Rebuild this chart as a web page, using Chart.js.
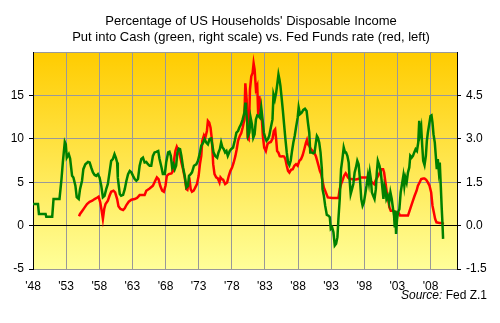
<!DOCTYPE html>
<html>
<head>
<meta charset="utf-8">
<script src="https://cdn.jsdelivr.net/npm/chart.js@4.4.0/dist/chart.umd.min.js"></script>
<style>
  body { margin:0; background:#fff; }
  #cashChart { display:block; }
</style>
</head>
<body>
<canvas id="cashChart" width="500" height="323"></canvas>
<script>
// cash as % of disposable income (right scale)
var greenYears=[1948.0,1948.75,1948.9,1949.9,1950.0,1950.9,1951.1,1952.0,1952.3,1952.5,1952.8,1952.95,1953.1,1953.4,1953.6,1953.9,1954.1,1954.4,1954.6,1954.9,
  1955.1,1955.4,1955.6,1955.9,1956.3,1956.55,1956.8,1957.05,1957.3,1957.55,1957.8,1958.05,1958.3,1958.55,1958.8,1959.05,1959.3,1959.55,1959.8,
  1960.05,1960.3,1960.5,1960.7,1960.8,1961.1,1961.3,1961.6,1961.85,1962.1,1962.35,1962.6,1962.85,1963.1,1963.35,1963.6,1963.85,
  1964.1,1964.35,1964.6,1964.85,1965.1,1965.35,1965.6,1965.85,1966.1,1966.35,1966.6,1966.9,1967.1,1967.4,1967.6,1967.9,
  1968.1,1968.4,1968.6,1968.8,1969.0,1969.2,1969.4,1969.6,1969.8,1970.0,1970.2,1970.4,1970.65,1970.9,1971.15,1971.4,1971.55,1971.8,
  1972.0,1972.3,1972.65,1972.9,1973.15,1973.4,1973.65,1973.9,1974.15,1974.4,1974.65,1974.9,1975.05,1975.25,1975.5,1975.8,
  1976.0,1976.2,1976.4,1976.6,1976.8,1977.0,1977.2,1977.4,1977.7,1977.9,1978.2,1978.45,1978.7,1978.95,
  1979.15,1979.4,1979.65,1979.9,1980.05,1980.15,1980.3,1980.45,1980.65,1980.85,1981.05,1981.25,1981.45,1981.65,1981.85,
  1982.05,1982.25,1982.45,1982.65,1982.85,1983.05,1983.25,1983.45,1983.65,1983.9,1984.15,1984.3,1984.5,1984.7,1984.9,
  1985.05,1985.2,1985.35,1985.5,1985.7,1985.9,1986.1,1986.3,1986.5,1986.7,1986.9,1987.1,1987.3,1987.5,1987.7,1987.95,
  1988.1,1988.3,1988.55,1988.8,1989.05,1989.3,1989.5,1989.7,1989.85,1990.05,1990.3,1990.5,1990.7,1990.85,
  1991.0,1991.2,1991.4,1991.6,1991.7,1991.9,1992.1,1992.35,1992.6,1992.8,1992.95,1993.15,1993.35,1993.55,1993.75,1993.95,
  1994.1,1994.3,1994.5,1994.7,1994.9,1995.1,1995.25,1995.45,1995.65,1995.8,1995.95,1996.15,1996.35,1996.55,1996.75,1996.95,
  1997.15,1997.35,1997.55,1997.75,1997.95,1998.15,1998.35,1998.55,1998.7,1998.85,1999.0,1999.15,1999.35,1999.55,1999.75,1999.9,
  2000.05,2000.3,2000.5,2000.7,2000.9,2001.05,2001.2,2001.35,2001.55,2001.75,2001.95,2002.15,2002.35,2002.5,2002.6,2002.7,2002.8,2002.95,
  2003.1,2003.3,2003.5,2003.7,2003.9,2004.05,2004.2,2004.4,2004.6,2004.8,2004.95,2005.15,2005.35,2005.55,2005.75,2005.95,
  2006.15,2006.3,2006.45,2006.6,2006.75,2006.9,2007.1,2007.3,2007.45,2007.6,2007.8,2008.0,2008.15,2008.3,2008.45,2008.65,2008.8,2008.95,
  2009.1,2009.25,2009.4,2009.55,2009.7,2009.8,2009.9];
var greenCash=[0.75,0.75,0.40,0.40,0.31,0.31,0.92,0.92,1.61,2.18,2.89,2.81,2.35,2.47,2.32,1.72,1.66,1.38,0.98,0.92,
  1.26,1.55,1.95,2.12,2.20,2.18,2.00,1.84,1.75,1.72,1.78,1.66,1.38,0.98,1.03,1.26,1.44,1.84,2.24,
  2.30,2.47,2.35,2.18,1.66,1.09,1.03,1.06,1.26,1.55,1.78,1.89,1.84,1.72,1.61,1.55,1.61,
  2.07,2.30,2.35,2.18,2.20,2.12,2.07,2.07,2.41,2.53,2.55,2.58,2.30,2.01,1.78,1.78,
  2.18,2.53,2.55,2.41,2.01,2.12,1.95,2.07,2.53,2.66,2.64,2.41,2.01,1.72,1.32,1.38,1.72,1.78,
  1.84,2.07,2.12,2.24,2.47,2.76,2.85,2.99,2.87,2.81,2.99,3.01,2.81,2.53,2.41,2.35,
  2.53,2.64,2.87,2.70,2.64,2.53,2.58,2.41,2.58,2.64,2.70,2.93,3.21,3.27,
  3.39,3.50,3.67,3.90,4.25,4.02,3.67,3.10,3.21,3.73,3.50,3.04,3.16,3.67,3.81,
  3.79,3.73,4.08,3.67,3.21,3.04,2.93,2.99,3.10,3.39,3.67,4.53,4.36,4.59,4.94,
  5.22,5.05,4.82,4.48,4.02,3.50,2.99,2.53,2.18,2.09,2.24,2.58,2.87,3.10,3.39,3.73,
  4.08,3.85,3.90,4.00,4.04,3.96,3.56,3.21,2.53,2.53,2.50,2.53,2.87,3.10,
  3.04,2.87,2.53,1.95,1.26,1.03,0.69,0.37,0.34,0.29,-0.11,-0.06,-0.23,-0.69,-0.63,-0.40,
  0.23,0.92,1.95,2.30,2.70,2.53,2.53,2.41,2.18,1.55,1.09,1.26,1.44,1.84,2.01,2.24,
  2.12,1.61,0.92,0.69,0.80,1.09,1.38,1.72,1.49,1.84,1.61,1.15,1.03,0.92,1.26,1.84,
  2.24,2.07,1.84,1.38,0.92,1.38,1.26,0.92,1.03,0.80,1.15,0.92,0.57,0.34,-0.06,0.52,-0.29,0.23,
  0.46,0.57,1.15,1.44,1.72,1.38,1.66,1.49,1.84,2.01,2.41,2.35,2.41,2.53,2.64,2.58,
  2.87,3.62,3.21,3.39,2.76,2.24,2.09,2.41,2.93,3.21,3.50,3.79,3.81,3.56,3.16,2.87,2.41,1.95,
  2.30,1.89,2.18,1.38,0.57,0.11,-0.46];

// fed funds rate (left scale)
var redYears=[1954.94,1955.1,1955.45,1955.8,1956.15,1956.55,1956.95,1957.3,1957.65,1957.9,1958.15,1958.4,1958.55,1958.75,1958.95,
  1959.3,1959.55,1959.8,1960.15,1960.4,1960.7,1960.9,1961.2,1961.6,1961.85,1962.1,1962.45,1962.85,1963.35,1963.7,1964.1,
  1964.85,1965.1,1965.6,1966.1,1966.45,1966.7,1966.95,1967.2,1967.5,1967.75,1968.0,1968.2,1968.5,1968.9,1969.15,1969.3,1969.5,1969.7,1969.85,
  1970.0,1970.2,1970.4,1970.65,1970.9,1971.15,1971.3,1971.5,1971.65,1971.8,1972.0,1972.25,1972.5,1972.75,1973.0,1973.2,1973.4,1973.55,1973.8,
  1974.0,1974.25,1974.4,1974.6,1974.8,1975.0,1975.2,1975.4,1975.65,1975.9,1976.15,1976.3,1976.5,1976.7,1977.0,1977.3,1977.55,1977.8,
  1978.05,1978.3,1978.55,1978.75,1978.95,1979.2,1979.45,1979.65,1979.9,1980.05,1980.25,1980.4,1980.55,1980.75,1980.95,
  1981.15,1981.3,1981.45,1981.65,1981.85,1982.0,1982.15,1982.35,1982.55,1982.7,1982.9,1983.15,1983.4,1983.65,1983.9,
  1984.15,1984.35,1984.55,1984.7,1984.85,1985.05,1985.25,1985.45,1985.7,1985.9,1986.1,1986.3,1986.5,1986.7,1986.95,
  1987.2,1987.45,1987.7,1987.95,1988.2,1988.45,1988.7,1988.95,1989.2,1989.35,1989.5,1989.7,1989.95,1990.2,1990.45,1990.7,1990.9,
  1991.1,1991.3,1991.5,1991.7,1991.9,1992.1,1992.3,1992.5,1993.2,1994.1,1994.3,1994.5,1994.7,1994.95,1995.2,1995.3,1995.55,1995.8,
  1996.05,1996.55,1997.05,1997.55,1998.6,1998.9,1999.2,1999.5,1999.8,2000.1,2000.35,2000.6,2000.85,2001.0,2001.2,2001.4,2001.6,2001.8,
  2002.0,2002.35,2002.6,2002.85,2003.2,2003.4,2004.6,2004.85,2005.1,2005.35,2005.6,2005.9,2006.1,2006.35,2006.6,2006.9,
  2007.1,2007.35,2007.6,2007.85,2008.1,2008.3,2008.5,2008.7,2008.9,2009.35,2009.75,2010.0];
var redFedFunds=[1.07,1.34,1.72,2.10,2.49,2.75,2.87,3.06,3.21,3.33,2.68,1.53,0.77,1.91,2.49,
  2.87,3.44,3.90,4.02,3.83,3.06,2.22,1.91,1.80,1.99,2.37,2.75,2.98,3.06,3.18,3.52,
  3.52,4.02,4.28,4.59,5.16,5.55,5.36,4.59,4.02,3.90,4.59,5.74,5.93,6.01,6.31,7.65,8.61,9.07,8.80,
  8.42,8.03,7.27,6.50,5.55,4.21,4.13,4.97,5.16,4.21,3.90,4.02,4.40,4.78,5.74,7.08,8.03,9.76,10.4,
  10.1,10.9,12.05,11.86,11.28,9.95,7.08,5.93,5.55,5.43,4.97,5.55,5.36,5.28,4.78,4.97,5.74,6.31,
  6.69,7.27,8.03,8.80,9.76,10.3,10.7,11.3,12.2,16.4,14.5,10.1,9.95,15.7,17.2,
  17.6,18.7,18.0,15.7,16.1,12.6,14.9,13.8,12.2,10.3,8.99,8.6,9.4,9.56,9.64,
  10.0,10.9,11.1,9.95,8.6,8.4,8.0,7.96,8.0,7.96,7.65,6.89,6.31,6.12,6.43,
  6.5,6.89,7.08,6.89,7.46,7.65,8.1,8.8,9.56,9.87,9.37,9.18,8.8,8.6,8.4,8.0,7.46,
  6.89,6.31,5.93,5.16,4.4,4.02,3.63,3.25,3.18,3.18,4.21,4.78,5.16,5.74,6.04,5.93,5.55,5.36,
  5.36,5.28,5.36,5.55,5.55,5.16,4.97,4.78,5.36,5.74,6.12,6.5,6.5,6.12,4.97,3.83,3.06,2.10,
  1.72,1.72,1.61,1.53,1.45,1.15,1.15,1.72,2.30,2.87,3.44,4.02,4.59,4.97,5.36,5.43,
  5.43,5.28,4.97,4.59,3.83,2.30,1.53,0.77,0.38,0.31,0.31,0.19];

// axis ticks
var tickYears=[1948,1953,1958,1963,1968,1973,1978,1983,1988,1993,1998,2003,2008];
var leftTicks=[-5,0,5,10,15,20];
var rightTicks=[-1.5,0,1.5,3,4.5,6];

var titleLines=["Percentage of US Households' Disposable Income",
  "Put into Cash (green, right scale) vs. Fed Funds rate (red, left)"];

Chart.defaults.font.family="'Liberation Sans', Arial, sans-serif";
Chart.defaults.font.size=12;
Chart.defaults.color="#000";

function toPoints(xs,ys){
  return xs.map(function(x,i){ return {x:x,y:ys[i]}; });
}

var bgPlugin={
  id:'plotBg',
  beforeDraw:function(chart){
    var a=chart.chartArea, c=chart.ctx;
    var g=c.createLinearGradient(0,a.top,0,a.bottom);
    g.addColorStop(0,'#FFCC00');
    g.addColorStop(1,'#FFFF99');
    c.save();
    c.fillStyle=g;
    c.fillRect(a.left,a.top,a.right-a.left,a.bottom-a.top);
    c.restore();
  }
};

var textPlugin={
  id:'texts',
  afterDraw:function(chart){
    var c=chart.ctx;
    c.save();
    c.fillStyle='#000';
    c.textAlign='center';
    c.textBaseline='middle';
    c.font="13px 'Liberation Sans', Arial, sans-serif";
    c.fillText(titleLines[0],251,21);
    c.fillText(titleLines[1],251,37);
    c.textAlign='left';
    c.font="italic 12px 'Liberation Sans', Arial, sans-serif";
    var s='Source:';
    var w1=c.measureText(s+' ').width;
    c.font="12px 'Liberation Sans', Arial, sans-serif";
    var w2=c.measureText('Fed Z.1').width;
    var x0=487-w1-w2;
    c.font="italic 12px 'Liberation Sans', Arial, sans-serif";
    c.fillText(s,x0,296);
    c.font="12px 'Liberation Sans', Arial, sans-serif";
    c.fillText('Fed Z.1',x0+w1,296);
    c.restore();
  }
};

var ctx=document.querySelector("#cashChart").getContext("2d");
var myChart=new Chart(ctx,{
  type:"line",
  data:{
    datasets:[{
      label:'Fed Funds rate',
      data:toPoints(redYears,redFedFunds),
      borderColor:'#FF0000',
      borderWidth:2.5,
      pointRadius:0,
      yAxisID:'y',
      order:1
    },{
      label:'Cash % of disposable income',
      data:toPoints(greenYears,greenCash),
      borderColor:'#008000',
      borderWidth:2.5,
      pointRadius:0,
      yAxisID:'y1',
      order:0
    }]
  },
  options:{
    responsive:false,
    animation:false,
    layout:{ padding:{ top:52, left:0, right:0, bottom:0 } },
    plugins:{
      legend:{ display:false },
      tooltip:{ enabled:false }
    },
    scales:{
      x:{
        type:'linear',
        min:1948,
        max:2012,
        afterBuildTicks:function(s){ s.ticks=tickYears.map(function(v){ return {value:v}; }); },
        afterFit:function(s){ s.height=54; },
        ticks:{
          padding:10,
          maxRotation:0,
          autoSkip:false,
          callback:function(v){ return "'"+String(v).slice(2); }
        },
        grid:{ color:'#999999', drawTicks:false },
        border:{ color:'#999999' }
      },
      y:{
        position:'left',
        min:-5,
        max:20,
        afterBuildTicks:function(s){ s.ticks=leftTicks.map(function(v){ return {value:v}; }); },
        afterFit:function(s){ s.width=33; },
        ticks:{
          padding:5,
          callback:function(v){ return v===20 ? '' : String(v); }
        },
        grid:{
          color:function(c){ return c.tick && c.tick.value===0 ? '#000000' : '#999999'; },
          tickColor:function(c){ return c.tick && c.tick.value===20 ? 'rgba(0,0,0,0)' : '#000000'; },
          tickLength:4
        },
        border:{ color:'#000000' }
      },
      y1:{
        position:'right',
        min:-1.5,
        max:6,
        afterBuildTicks:function(s){ s.ticks=rightTicks.map(function(v){ return {value:v}; }); },
        afterFit:function(s){ s.width=43; },
        ticks:{
          padding:5,
          callback:function(v){ return v===6 ? '' : v.toFixed(1); }
        },
        grid:{
          drawOnChartArea:false,
          tickColor:function(c){ return c.tick && c.tick.value===6 ? 'rgba(0,0,0,0)' : '#000000'; },
          tickLength:4
        },
        border:{ color:'#000000' }
      }
    }
  },
  plugins:[bgPlugin,textPlugin]
});
</script>
</body>
</html>
